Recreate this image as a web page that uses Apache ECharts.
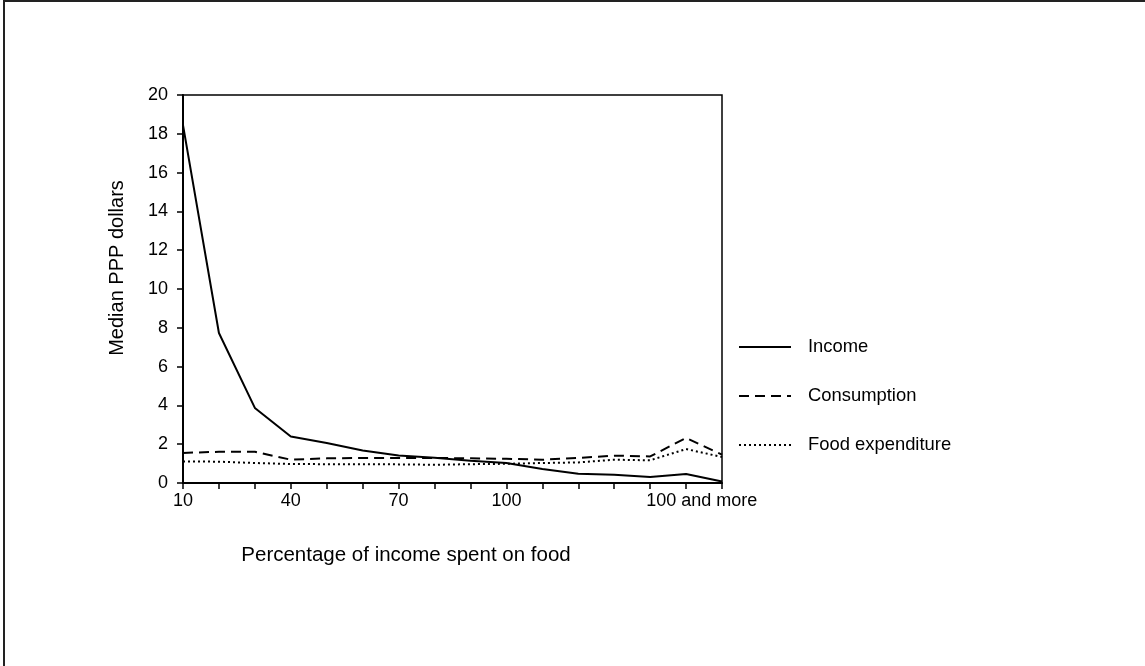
<!DOCTYPE html>
<html>
<head>
<meta charset="utf-8">
<script src="https://cdn.jsdelivr.net/npm/echarts@6/dist/echarts.min.js"></script>
<style>
  html, body { margin: 0; padding: 0; background: #fff; }
  #chart { width: 1145px; height: 666px; }
</style>
</head>
<body>
<div id="chart"></div>
<script>
// Income-share groups along the horizontal axis (only some are labelled)
const categories = ['10', '', '', '40', '', '', '70', '', '', '100', '', '', '', '100 and more', '', ''];

// Median values in PPP dollars per group
const income      = [18.45, 7.73, 3.87, 2.40, 2.06, 1.68, 1.42, 1.30, 1.15, 1.03, 0.72, 0.48, 0.43, 0.31, 0.46, 0.08];
const consumption = [1.55, 1.61, 1.61, 1.20, 1.27, 1.29, 1.29, 1.29, 1.27, 1.25, 1.20, 1.29, 1.41, 1.37, 2.32, 1.46];
const foodExp     = [1.11, 1.10, 1.03, 0.98, 0.97, 0.97, 0.96, 0.94, 0.97, 0.99, 1.03, 1.06, 1.20, 1.17, 1.75, 1.34];

const yTicks = { min: 0, max: 20, interval: 2 };

const FONT = '"Liberation Sans", Arial, sans-serif';

const chart = echarts.init(document.getElementById('chart'), null, { renderer: 'canvas' });

const axisCats = categories.map(function (c) {
  // the last text label starts at its tick rather than centring on it
  return c === '100 and more' ? { value: c, textStyle: { align: 'left', padding: [0, 0, 0, -4] } } : c;
});

chart.setOption({
  animation: false,
  backgroundColor: '#fff',
  graphic: [{
    type: 'rect',
    shape: { x: 4, y: 1, width: 1400, height: 900 },
    style: { fill: 'none', stroke: '#222', lineWidth: 2 },
    silent: true
  }],
  grid: {
    left: 183, right: 423, top: 95, bottom: 183,
    show: true, borderColor: '#000', borderWidth: 1.5, backgroundColor: 'transparent'
  },
  legend: {
    orient: 'vertical',
    left: 738, top: 337, padding: 0,
    itemWidth: 52, itemHeight: 20, itemGap: 29,
    itemStyle: { opacity: 0 },
    textStyle: { fontFamily: FONT, fontSize: 18.4, color: '#000', padding: [0, 0, 0, 12], lineHeight: 20 },
    data: ['Income', 'Consumption', 'Food expenditure']
  },
  xAxis: {
    type: 'category',
    data: axisCats,
    boundaryGap: false,
    name: 'Percentage of income spent on food',
    nameLocation: 'middle',
    nameGap: 62,
    nameTextStyle: { fontFamily: FONT, fontSize: 20.5, color: '#000', padding: [0, 93, 0, 0] },
    axisLine: { lineStyle: { color: '#000', width: 2 } },
    axisTick: { show: true, interval: 0, length: 6, lineStyle: { color: '#000', width: 1.5 } },
    axisLabel: { interval: 0, fontFamily: FONT, fontSize: 18, color: '#000', margin: 9 },
    splitLine: { show: false }
  },
  yAxis: {
    type: 'value',
    min: yTicks.min, max: yTicks.max, interval: yTicks.interval,
    name: 'Median PPP dollars',
    nameLocation: 'middle',
    nameGap: 56,
    nameTextStyle: { fontFamily: FONT, fontSize: 20, color: '#000', padding: [0, 0, 0, 42] },
    axisLine: { show: true, lineStyle: { color: '#000', width: 2 } },
    axisTick: { show: true, length: 6, lineStyle: { color: '#000', width: 1.5 } },
    axisLabel: { fontFamily: FONT, fontSize: 18, color: '#000', margin: 15 },
    splitLine: { show: false }
  },
  series: [
    {
      name: 'Income', type: 'line', data: income, symbol: 'none',
      lineStyle: { color: '#000', width: 2, type: 'solid' },
      itemStyle: { color: '#000' }
    },
    {
      name: 'Consumption', type: 'line', data: consumption, symbol: 'none',
      lineStyle: { color: '#000', width: 2, type: [10, 6] },
      itemStyle: { color: '#000' }
    },
    {
      name: 'Food expenditure', type: 'line', data: foodExp, symbol: 'none',
      lineStyle: { color: '#000', width: 2, type: [2, 3] },
      itemStyle: { color: '#000' }
    }
  ]
});
</script>
</body>
</html>
